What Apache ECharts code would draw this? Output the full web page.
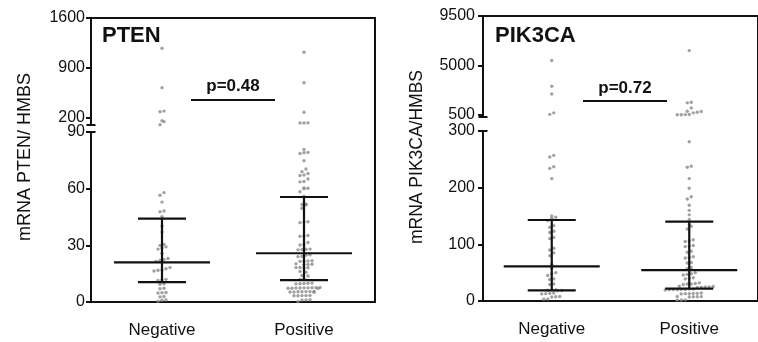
<!DOCTYPE html>
<html>
<head>
<meta charset="utf-8">
<script src="https://cdn.jsdelivr.net/npm/echarts@6/dist/echarts.min.js"></script>
<style>
  html, body { margin: 0; background: #fff; }
  #chart { width: 758px; height: 342px; }
</style>
</head>
<body>
<div id="chart"></div>
<script>
// values
const categories = ["Negative", "Positive"];

const ptenNegative = [1176, 623, 295, 285, 160, 148, 105, 57.9, 56.5, 52.9, 48.2, 47.8, 45.2, 40.2, 37.1,
  30.5, 30, 29.2, 28.6, 28, 25.8, 23, 22.5, 22, 21.5, 18.2, 17.6, 17, 16.8, 16.4, 12, 11.7, 11.4,
  9.6, 9.4, 7.3, 7.0, 5.0, 4.9, 4.8, 2.9, 2.7, 1.1, 0.9, 0.4];
const ptenPositive = [1119, 693, 278, 130, 128, 127, 80.8, 79.2, 79, 78.6, 74.8, 70.4, 69, 68, 67.2, 67,
  65.1, 63.8, 63.6, 60.4, 60.2, 60, 58.4, 56, 51.8, 51.6, 51.5, 49.6, 42.5, 42.3, 42, 35.2, 35, 34.8,
  31.5, 30.5, 30.2, 28, 27.9, 27.8, 27.6, 25, 24.8, 24.2, 24, 21.8, 21.7, 21.6, 21.5, 20.2, 20, 19.9,
  19.8, 18.3, 18.2, 18.1, 18, 16.2, 15.8, 14, 13.8, 12.2, 12, 10, 9.9, 9.8, 9.7, 9.6, 7.7, 7.6, 7.6,
  7.5, 7.5, 7.4, 7.4, 7.3, 7.3, 7.2, 5.6, 5.5, 5.5, 5.4, 5.4, 5.3, 5.3, 5.2, 3.5, 3.4, 3.4, 3.3, 3.3,
  1.2, 1.1, 1.0, 0.2];
const ptenMedian = [21.0, 25.8];
const ptenQ1 = [10.5, 11.6];
const ptenQ3 = [44.1, 55.6];
const ptenUpperTicks = [200, 900, 1600];

const pik3caNegative = [5450, 3100, 2400, 680, 540, 257, 254, 237, 234, 216, 150, 148, 146, 142, 133,
  130, 123, 121, 112, 110, 93, 90, 85, 80, 65, 58, 50, 48, 45, 39, 38, 30, 29, 20, 19.5, 19, 18.5, 18,
  14, 13.5, 13, 12.5, 8, 7.5, 7, 3.5, 3];
const pik3caPositive = [6350, 1640, 1590, 1130, 830, 800, 735, 680, 530, 520, 510, 500, 281, 238, 236,
  216, 199, 184, 180, 169, 160, 152, 144, 134, 132, 127, 108, 106, 105, 98, 97, 96, 88, 86, 78, 77, 76,
  68, 67, 59, 57, 50, 48, 47, 46, 41, 40, 39, 32, 31, 30, 30, 29, 26, 25.5, 25, 25, 24.5, 24, 21, 21,
  20.5, 20.5, 20, 20, 20, 19.5, 14, 13.5, 13.5, 13, 13, 12.5, 8, 7.8, 7.5, 7.5, 7, 2, 1.8, 1.5];
const pik3caMedian = [61, 54.5];
const pik3caQ1 = [18.8, 21.7];
const pik3caQ3 = [142.9, 139.9];
const pik3caUpperTicks = [500, 5000, 9500];

const FONT = '"Liberation Sans", Arial, sans-serif';
const INK = "#111";
const lineStyle = { color: INK, width: 2 };

const panels = [
  {
    name: "PTEN", yTitle: "mRNA PTEN/ HMBS", yTitleSize: 18, pValue: "p=0.48",
    groups: [ptenNegative, ptenPositive], median: ptenMedian, q1: ptenQ1, q3: ptenQ3,
    lowerMax: 90, lowerInterval: 30, upperMin: 100, upperMax: 1600, upperTicks: ptenUpperTicks,
    left: 91, upperTop: 18, upperHeight: 107, lowerTop: 132, lowerHeight: 170, labelMargin: 6,
    titleX: 102, yTitleX: 25, pX: 233, pTextY: 86, pLineY: 100
  },
  {
    name: "PIK3CA", yTitle: "mRNA PIK3CA/HMBS", yTitleSize: 17.5, pValue: "p=0.72",
    groups: [pik3caNegative, pik3caPositive], median: pik3caMedian, q1: pik3caQ1, q3: pik3caQ3,
    lowerMax: 300, lowerInterval: 100, upperMin: 300, upperMax: 9500, upperTicks: pik3caUpperTicks,
    left: 483, upperTop: 16, upperHeight: 101, lowerTop: 131, lowerHeight: 170, labelMargin: 8,
    titleX: 495, yTitleX: 417, pX: 625, pTextY: 88, pLineY: 101
  }
];

const grid = [], xAxis = [], yAxis = [], series = [], graphic = [];
const swarmJobs = [];

function statsItem(params, api) {
  const a = api.coord([api.value(0), api.value(1)]);
  const m = api.coord([api.value(0), api.value(2)]);
  const b = api.coord([api.value(0), api.value(3)]);
  const st = { stroke: INK, lineWidth: 2.2 };
  return {
    type: "group",
    children: [
      { type: "line", shape: { x1: m[0] - 48, y1: m[1], x2: m[0] + 48, y2: m[1] }, style: st },
      { type: "line", shape: { x1: a[0] - 24, y1: a[1], x2: a[0] + 24, y2: a[1] }, style: st },
      { type: "line", shape: { x1: b[0] - 24, y1: b[1], x2: b[0] + 24, y2: b[1] }, style: st },
      { type: "line", shape: { x1: a[0], y1: a[1], x2: b[0], y2: b[1] }, style: st }
    ]
  };
}

function breakCap(params, api) {
  const p = api.coord([api.value(0), api.value(1)]);
  return { type: "line", shape: { x1: p[0] - 4.5, y1: p[1], x2: p[0] + 4.5, y2: p[1] },
    style: { stroke: INK, lineWidth: 2 } };
}

panels.forEach((p, k) => {
  const g0 = grid.length;
  grid.push({ left: p.left, top: p.upperTop, width: 284, height: p.upperHeight });
  grid.push({ left: p.left, top: p.lowerTop, width: 284, height: p.lowerHeight });
  grid.push({ left: p.left, top: p.upperTop, width: 284, height: p.lowerTop + p.lowerHeight - p.upperTop });

  const x0 = xAxis.length;
  xAxis.push({
    type: "value", gridIndex: g0, position: "top", min: -0.5, max: 1.5,
    axisLine: { show: true, onZero: false, lineStyle },
    axisTick: { show: false }, axisLabel: { show: false }, splitLine: { show: false }
  });
  xAxis.push({ type: "value", gridIndex: g0 + 1, min: -0.5, max: 1.5, show: false });
  xAxis.push({
    type: "category", gridIndex: g0 + 1, data: categories, position: "bottom",
    axisLine: { onZero: false, lineStyle },
    axisTick: { alignWithLabel: true, length: 5, lineStyle },
    axisLabel: { fontSize: 17, fontFamily: FONT, color: INK, margin: 20 },
    splitLine: { show: false }
  });
  xAxis.push({ type: "value", gridIndex: g0 + 2, show: false });

  const y0 = yAxis.length;
  const labelStyle = { fontSize: 16, fontFamily: FONT, color: INK, margin: p.labelMargin,
    formatter: v => String(v) };
  yAxis.push({
    type: "value", gridIndex: g0, min: p.upperMin, max: p.upperMax,
    axisLine: { show: true, onZero: false, lineStyle },
    axisTick: { show: true, length: 5, customValues: p.upperTicks, lineStyle },
    axisLabel: Object.assign({ customValues: p.upperTicks }, labelStyle),
    splitLine: { show: false }
  });
  yAxis.push({
    type: "value", gridIndex: g0 + 1, min: 0, max: p.lowerMax, interval: p.lowerInterval,
    axisLine: { show: true, onZero: false, lineStyle },
    axisTick: { show: true, length: 5, lineStyle },
    axisLabel: labelStyle,
    splitLine: { show: false }
  });
  yAxis.push({
    type: "value", gridIndex: g0 + 2, position: "right", min: 0, max: 1,
    axisLine: { show: true, onZero: false, lineStyle },
    axisTick: { show: false }, axisLabel: { show: false }, splitLine: { show: false }
  });

  p.groups.forEach((vals, gi) => {
    [[vals.filter(v => v > p.lowerMax), x0, y0, "up"], [vals.filter(v => v <= p.lowerMax), x0 + 1, y0 + 1, "lo"]]
      .forEach(([part, xi, yi, tag]) => {
        const id = `dots-${k}-${gi}-${tag}`;
        series.push({
          id, type: "scatter", xAxisIndex: xi, yAxisIndex: yi,
          data: part.map(v => [gi, v]), symbolSize: 3.4,
          itemStyle: { color: "#8a8a8a" }, z: 2, silent: true
        });
        swarmJobs.push({ id, part, gi, xi, yi });
      });
  });

  series.push({
    type: "custom", xAxisIndex: x0 + 1, yAxisIndex: y0 + 1, z: 3, silent: true,
    renderItem: statsItem,
    data: categories.map((c, i) => [i, p.q1[i], p.median[i], p.q3[i]])
  });
  series.push({ type: "custom", xAxisIndex: x0, yAxisIndex: y0, z: 3, silent: true,
    renderItem: breakCap, data: [[-0.5, p.upperMin]] });
  series.push({ type: "custom", xAxisIndex: x0 + 1, yAxisIndex: y0 + 1, z: 3, silent: true,
    renderItem: breakCap, data: [[-0.5, p.lowerMax]] });

  graphic.push(
    { type: "text", x: p.titleX, y: 36,
      style: { text: p.name, font: `bold 22px ${FONT}`, fill: INK, verticalAlign: "middle" } },
    { type: "text", x: p.yTitleX, y: 157, rotation: Math.PI / 2,
      style: { text: p.yTitle, font: `${p.yTitleSize}px ${FONT}`, fill: INK, align: "center", verticalAlign: "middle" } },
    { type: "text", x: p.pX, y: p.pTextY,
      style: { text: p.pValue, font: `bold 17px ${FONT}`, fill: INK, align: "center", verticalAlign: "middle" } },
    { type: "line", shape: { x1: p.pX - 42, y1: p.pLineY, x2: p.pX + 42, y2: p.pLineY },
      style: { stroke: INK, lineWidth: 2 } }
  );
});

const chart = echarts.init(document.getElementById("chart"));
chart.setOption({ animation: false, grid, xAxis, yAxis, series, graphic });

// column scatter: dots falling in the same row are set side by side
function swarm(pys, rowH, gap) {
  const order = pys.map((y, i) => i).sort((a, b) => pys[b] - pys[a]);
  const out = new Array(pys.length);
  let row = [];
  const flush = () => {
    row.forEach((i, j) => { out[i] = (j - (row.length - 1) / 2) * gap; });
    row = [];
  };
  order.forEach(i => {
    if (row.length && pys[row[0]] - pys[i] >= rowH) flush();
    row.push(i);
  });
  flush();
  return out;
}

chart.setOption({
  series: swarmJobs.map(job => {
    const unit = chart.convertToPixel({ xAxisIndex: job.xi }, 1) - chart.convertToPixel({ xAxisIndex: job.xi }, 0);
    const pys = job.part.map(v => chart.convertToPixel({ yAxisIndex: job.yi }, v));
    const dx = swarm(pys, 3.6, 4);
    return { id: job.id, data: job.part.map((v, i) => [job.gi + dx[i] / unit, v]) };
  })
});

window.addEventListener("resize", () => chart.resize());
</script>
</body>
</html>
